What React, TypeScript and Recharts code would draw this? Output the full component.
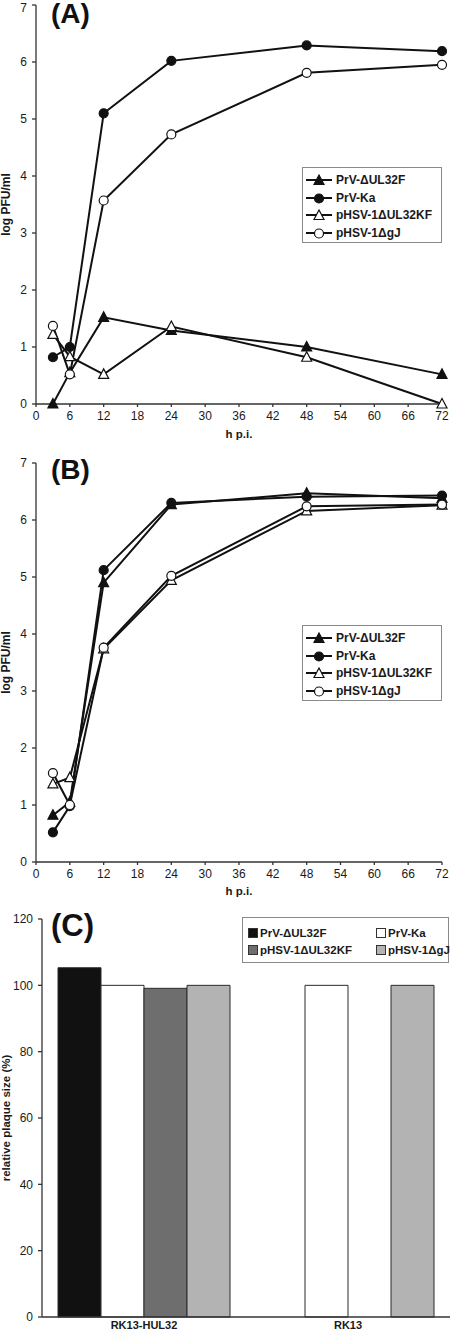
import React from "react";
import { LineChart, Line, XAxis, YAxis, Legend, BarChart, Bar } from "recharts";

const FONT = '"Liberation Sans", Arial, sans-serif';
const INK = "#1a1a1a";

// growth kinetics, hours post infection
const hours = [3, 6, 12, 24, 48, 72];
const hourTicks = [0, 6, 12, 18, 24, 30, 36, 42, 48, 54, 60, 66, 72];
const logTicks = [0, 1, 2, 3, 4, 5, 6, 7];

const seriesNames = ["PrV-ΔUL32F", "PrV-Ka", "pHSV-1ΔUL32KF", "pHSV-1ΔgJ"];

// (A)
const aUL32F = [0, 0.55, 1.52, 1.29, 1.0, 0.52];
const aKa = [0.82, 1.0, 5.1, 6.02, 6.29, 6.19];
const aUL32KF = [1.22, 0.83, 0.52, 1.36, 0.82, 0.0];
const aGJ = [1.37, 0.52, 3.57, 4.73, 5.81, 5.95];

// (B)
const bUL32F = [0.82, 1.05, 4.9, 6.27, 6.47, 6.38];
const bKa = [0.52, 0.98, 5.12, 6.3, 6.41, 6.43];
const bUL32KF = [1.37, 1.48, 3.74, 4.94, 6.16, 6.26];
const bGJ = [1.56, 1.0, 3.76, 5.02, 6.24, 6.27];

// (C) relative plaque size
const cells = ["RK13-HUL32", "RK13"];
const cUL32F = [105.3, 0];
const cKa = [100, 100];
const cUL32KF = [99.1, 0];
const cGJ = [100, 100];
const plaqueTicks = [0, 20, 40, 60, 80, 100, 120];
const barColors = ["#111111", "#ffffff", "#6e6e6e", "#b3b3b3"];

const keys = ["s1", "s2", "s3", "s4"];
const markers = [
  { shape: "tri", filled: true },
  { shape: "circle", filled: true },
  { shape: "tri", filled: false },
  { shape: "circle", filled: false },
];

const toRows = (cols: number[][]) =>
  hours.map((h, i) => ({ h, s1: cols[0][i], s2: cols[1][i], s3: cols[2][i], s4: cols[3][i] }));

const dataA = toRows([aUL32F, aKa, aUL32KF, aGJ]);
const dataB = toRows([bUL32F, bKa, bUL32KF, bGJ]);
const dataC = cells.map((cell, i) => ({
  cell,
  s1: cUL32F[i],
  s2: cKa[i],
  s3: cUL32KF[i],
  s4: cGJ[i],
}));

const Marker = ({ cx, cy, shape, filled }: any) => {
  if (cx == null || cy == null) return null;
  const fill = filled ? "#111" : "#fff";
  if (shape === "tri") {
    return (
      <polygon
        points={`${cx},${cy - 5.5} ${cx - 5},${cy + 4} ${cx + 5},${cy + 4}`}
        fill={fill}
        stroke="#111"
        strokeWidth={1.2}
      />
    );
  }
  return <circle cx={cx} cy={cy} r={4.5} fill={fill} stroke="#111" strokeWidth={1.2} />;
};

const LineLegend = () => (
  <div
    style={{
      border: "1px solid #8a8a8a",
      background: "#fff",
      width: 140,
      height: 76,
      boxSizing: "border-box",
      padding: "3px 0 0 2px",
      fontFamily: FONT,
      fontWeight: "bold",
      fontSize: 12,
      color: INK,
    }}
  >
    {seriesNames.map((name, i) => (
      <div key={name} style={{ height: 17.7, display: "flex", alignItems: "center" }}>
        <svg width={28} height={12} style={{ marginRight: 3 }}>
          <line x1={1} y1={6} x2={27} y2={6} stroke="#111" strokeWidth={2} />
          <Marker cx={14} cy={6.5} {...markers[i]} />
        </svg>
        <span>{name}</span>
      </div>
    ))}
  </div>
);

const BarLegend = () => (
  <div
    style={{
      border: "1px solid #8a8a8a",
      background: "#fff",
      width: 207,
      height: 46,
      boxSizing: "border-box",
      padding: "6px 0 0 5px",
      fontFamily: FONT,
      fontWeight: "bold",
      fontSize: 11.5,
      color: INK,
      display: "grid",
      gridTemplateColumns: "128px 72px",
      gridAutoRows: "17px",
      whiteSpace: "nowrap",
    }}
  >
    {seriesNames.map((name, i) => (
      <div key={name} style={{ display: "flex", alignItems: "center" }}>
        <span
          style={{
            width: 8,
            height: 8,
            background: barColors[i],
            border: "1px solid #333",
            marginRight: 2,
            display: "inline-block",
            flexShrink: 0,
          }}
        />
        <span>{name}</span>
      </div>
    ))}
  </div>
);

const tickStyle = { fontSize: 12, fill: INK, fontFamily: FONT };
const axisStroke = { stroke: "#333", strokeWidth: 1.3 };
const titleStyle = (top: number, size: number): React.CSSProperties => ({
  position: "absolute",
  left: 51,
  top,
  fontFamily: FONT,
  fontWeight: "bold",
  fontSize: size,
  lineHeight: 1,
  color: "#111",
});

const GrowthChart = ({ data, height, top, bottom, legendTop, xOffset }: any) => (
  <LineChart
    width={450}
    height={height}
    data={data}
    margin={{ top, right: 8, bottom, left: 0 }}
    style={{ fontFamily: FONT }}
  >
    <XAxis
      dataKey="h"
      type="number"
      domain={[0, 72]}
      ticks={hourTicks}
      tick={tickStyle}
      tickSize={3}
      tickMargin={4}
      axisLine={axisStroke}
      tickLine={axisStroke}
      height={41}
      label={{
        value: "h p.i.",
        position: "insideBottom",
        offset: xOffset,
        style: { fontSize: 11.5, fontWeight: "bold", fill: INK, fontFamily: FONT },
      }}
    />
    <YAxis
      domain={[0, 7]}
      ticks={logTicks}
      tick={tickStyle}
      tickSize={4}
      tickMargin={5}
      width={36}
      axisLine={axisStroke}
      tickLine={axisStroke}
      label={{
        value: "log PFU/ml",
        angle: -90,
        position: "insideLeft",
        offset: 6,
        style: { textAnchor: "middle", fontSize: 12, fontWeight: "bold", fill: INK, fontFamily: FONT },
      }}
    />
    <Legend
      layout="vertical"
      align="center"
      verticalAlign="middle"
      content={() => <LineLegend />}
      wrapperStyle={{ top: legendTop, left: 302, width: 140 }}
    />
    {keys.map((k, i) => (
      <Line
        key={k}
        dataKey={k}
        name={seriesNames[i]}
        type="linear"
        stroke="#111"
        strokeWidth={2}
        isAnimationActive={false}
        dot={(p: any) => <Marker key={`${k}-${p.index}`} cx={p.cx} cy={p.cy} {...markers[i]} />}
        activeDot={false}
      />
    ))}
  </LineChart>
);

export default function App() {
  return (
    <div style={{ position: "absolute", left: 0, top: 0, width: 450, height: 1335, background: "#fff" }}>
      <div style={{ position: "absolute", left: 0, top: 0 }}>
        <GrowthChart data={dataA} height={450} top={5} bottom={5} legendTop={167} xOffset={7} />
      </div>
      <div style={titleStyle(0, 28)}>(A)</div>

      <div style={{ position: "absolute", left: 0, top: 450 }}>
        <GrowthChart data={dataB} height={455} top={13} bottom={2} legendTop={175} xOffset={8} />
      </div>
      <div style={titleStyle(456, 28)}>(B)</div>

      <div style={{ position: "absolute", left: 0, top: 905 }}>
        <BarChart
          width={450}
          height={430}
          data={dataC}
          margin={{ top: 14, right: 0, bottom: 0, left: 0 }}
          barCategoryGap={16}
          barGap={0}
          style={{ fontFamily: FONT }}
        >
          <XAxis
            dataKey="cell"
            tick={{ ...tickStyle, fontWeight: "bold", fontSize: 11 }}
            tickLine={false}
            tickSize={0}
            tickMargin={4}
            height={18}
            axisLine={axisStroke}
          />
          <YAxis
            domain={[0, 120]}
            ticks={plaqueTicks}
            tick={tickStyle}
            tickSize={4}
            tickMargin={5}
            width={42}
            axisLine={axisStroke}
            tickLine={axisStroke}
            label={{
              value: "relative plaque size (%)",
              angle: -90,
              position: "insideLeft",
              offset: 6,
              style: { textAnchor: "middle", fontSize: 11.5, fontWeight: "bold", fill: INK, fontFamily: FONT },
            }}
          />
          <Legend
            layout="vertical"
            align="center"
            verticalAlign="middle"
            content={() => <BarLegend />}
            wrapperStyle={{ top: 12, left: 242, width: 207 }}
          />
          {keys.map((k, i) => (
            <Bar
              key={k}
              dataKey={k}
              name={seriesNames[i]}
              fill={barColors[i]}
              stroke="#2a2a2a"
              strokeWidth={1}
              isAnimationActive={false}
            />
          ))}
        </BarChart>
      </div>
      <div style={titleStyle(910, 31)}>(C)</div>
    </div>
  );
}
